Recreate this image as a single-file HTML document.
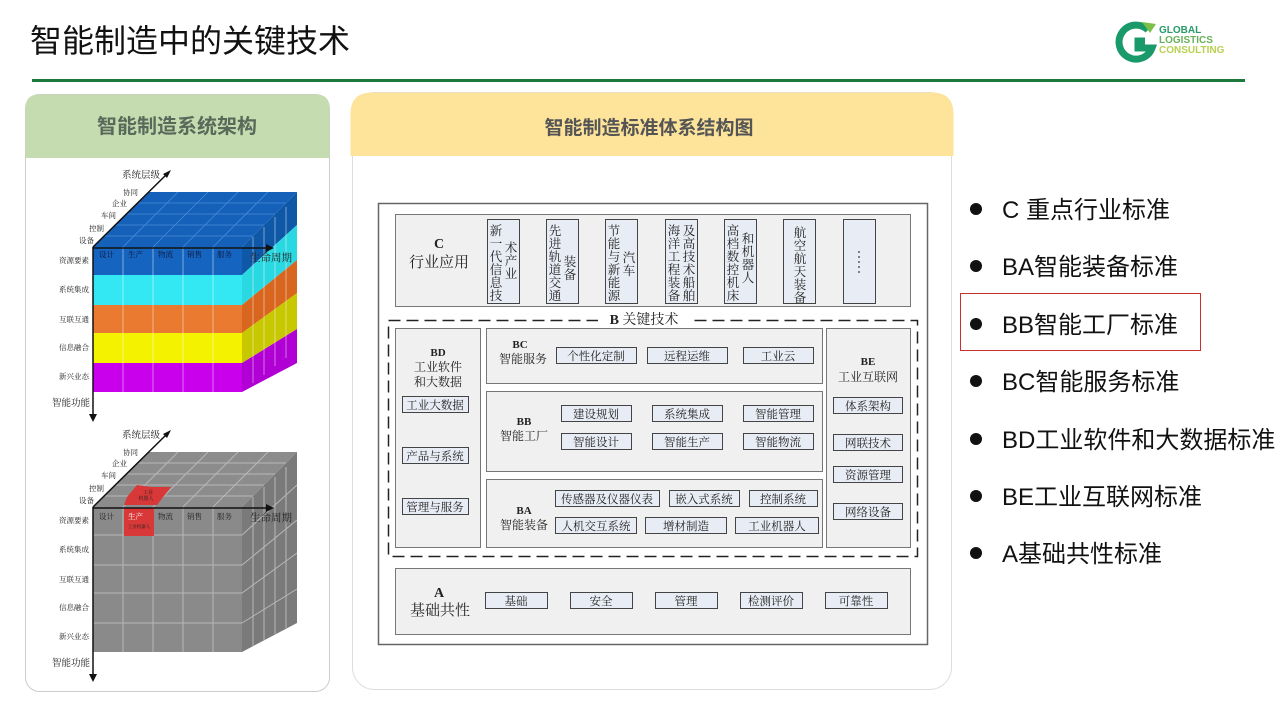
<!DOCTYPE html>
<html><head><meta charset="utf-8"><style>
html,body{margin:0;padding:0;background:#fff;width:1280px;height:720px;overflow:hidden}
svg{display:block}
.s{font-family:"Liberation Sans","Noto Sans CJK SC",sans-serif}
.f{font-family:"Liberation Serif","Noto Serif CJK SC",serif;fill:#222}
</style></head><body>
<svg width="1280" height="720" viewBox="0 0 1280 720" xmlns="http://www.w3.org/2000/svg">
<text x="30" y="52" class="s" font-size="32" fill="#111">智能制造中的关键技术</text>
<rect x="32" y="79" width="1213" height="3" fill="#1e7a3c"/>
<g>
<path d="M1148 30 A17 17 0 1 0 1152 48 L1138 48 L1138 41 L1145 41" fill="none" stroke="#1a9a6a" stroke-width="7"/>
<path d="M1142 22 L1156 24 L1150 33 Z" fill="#7cc04a"/>
<text x="1159" y="33" class="s" font-size="10" font-weight="bold" fill="#2a9a6a">GLOBAL</text>
<text x="1159" y="43" class="s" font-size="10" font-weight="bold" fill="#6ab05a">LOGISTICS</text>
<text x="1159" y="53" class="s" font-size="10" font-weight="bold" fill="#b8d050">CONSULTING</text>
</g>

<rect x="25.5" y="94.5" width="304" height="597" rx="14" fill="#fff" stroke="#ccc"/>
<path d="M25.5 158 L25.5 108 Q25.5 94.5 39 94.5 L316 94.5 Q329.5 94.5 329.5 108 L329.5 158 Z" fill="#c5dcb0"/>
<text x="177" y="133" text-anchor="middle" class="s" font-size="20" font-weight="bold" fill="#5a6a5a">智能制造系统架构</text>

<rect x="352.5" y="92.5" width="599" height="597" rx="22" fill="#fff" stroke="#ddd"/>
<path d="M350.5 156 L350.5 114 Q350.5 92.5 372 92.5 L932 92.5 Q953.5 92.5 953.5 114 L953.5 156 Z" fill="#fde49a"/>
<text x="649" y="134" text-anchor="middle" class="s" font-size="19" font-weight="bold" fill="#555">智能制造标准体系结构图</text>

<g>
<polygon points="93,247 148,192 297,192 242,247" fill="#1560b8"/>
<g stroke="#4a8ad8" stroke-width="0.8">
<line x1="123" y1="247" x2="178" y2="192"/><line x1="153" y1="247" x2="208" y2="192"/><line x1="183" y1="247" x2="238" y2="192"/><line x1="213" y1="247" x2="268" y2="192"/>
<line x1="104" y1="236" x2="253" y2="236"/><line x1="115" y1="225" x2="264" y2="225"/><line x1="126" y1="214" x2="275" y2="214"/><line x1="137" y1="203" x2="286" y2="203"/>
</g>
<rect x="93" y="247" width="149" height="28" fill="#1565c0"/>
<rect x="93" y="275" width="149" height="30" fill="#33e8f2"/>
<rect x="93" y="305" width="149" height="28" fill="#ea7a30"/>
<rect x="93" y="333" width="149" height="30" fill="#f5f200"/>
<rect x="93" y="363" width="149" height="29" fill="#c800ec"/>
<polygon points="242,247 297,192 297,225 242,275" fill="#0f58a8"/>
<polygon points="242,275 297,225 297,260 242,305" fill="#2ad8e2"/>
<polygon points="242,305 297,260 297,293 242,333" fill="#d8661e"/>
<polygon points="242,333 297,293 297,329 242,363" fill="#c8c800"/>
<polygon points="242,363 297,329 297,363 242,392" fill="#b000d4"/>
<g stroke="#ffffff" stroke-opacity="0.45" stroke-width="1">
<line x1="123" y1="247" x2="123" y2="392"/><line x1="153" y1="247" x2="153" y2="392"/><line x1="183" y1="247" x2="183" y2="392"/><line x1="213" y1="247" x2="213" y2="392"/>
<line x1="253" y1="237" x2="253" y2="383"/><line x1="264" y1="227" x2="264" y2="375"/><line x1="275" y1="217" x2="275" y2="366"/><line x1="286" y1="207" x2="286" y2="358"/>
</g>
<line x1="93" y1="247" x2="168" y2="173" stroke="#111" stroke-width="1.5"/><polygon points="171,170 163,174 167,178" fill="#111"/>
<line x1="93" y1="248" x2="268" y2="248" stroke="#111" stroke-width="1.5"/><polygon points="274,248 266,244 266,252" fill="#111"/>
<line x1="93" y1="247" x2="93" y2="417" stroke="#111" stroke-width="1.5"/><polygon points="93,422 89,414 97,414" fill="#111"/>
<g class="f" font-size="7.5">
<text x="79" y="243">设备</text><text x="89" y="231">控制</text><text x="101" y="218">车间</text><text x="112" y="206">企业</text><text x="123" y="195">协同</text>
<text x="59" y="263">资源要素</text><text x="59" y="292">系统集成</text><text x="59" y="322">互联互通</text><text x="59" y="350">信息融合</text><text x="59" y="379">新兴业态</text>
<text x="99" y="257" fill="#113">设计</text><text x="128" y="257" fill="#113">生产</text><text x="158" y="257" fill="#113">物流</text><text x="187" y="257" fill="#113">销售</text><text x="217" y="257" fill="#113">服务</text>
</g>
<text x="122" y="178" class="f" font-size="9.5">系统层级</text>
<text x="250" y="261" class="f" font-size="10.5">生命周期</text>
<text x="52" y="406" class="f" font-size="9.5">智能功能</text>
</g>

<g>
<polygon points="93,507 148,452 297,452 242,507" fill="#8c8c8c"/>
<rect x="93" y="507" width="149" height="145" fill="#8a8a8a"/>
<polygon points="242,507 297,452 297,623 242,652" fill="#7a7a7a"/>
<g stroke="#b8b8b8" stroke-width="1">
<line x1="123" y1="507" x2="178" y2="452"/><line x1="153" y1="507" x2="208" y2="452"/><line x1="183" y1="507" x2="238" y2="452"/><line x1="213" y1="507" x2="268" y2="452"/>
<line x1="104" y1="496" x2="253" y2="496"/><line x1="115" y1="485" x2="264" y2="485"/><line x1="126" y1="474" x2="275" y2="474"/><line x1="137" y1="463" x2="286" y2="463"/>
<line x1="123" y1="507" x2="123" y2="652"/><line x1="153" y1="507" x2="153" y2="652"/><line x1="183" y1="507" x2="183" y2="652"/><line x1="213" y1="507" x2="213" y2="652"/>
<line x1="93" y1="535" x2="242" y2="535"/><line x1="93" y1="565" x2="242" y2="565"/><line x1="93" y1="593" x2="242" y2="593"/><line x1="93" y1="623" x2="242" y2="623"/>
<line x1="253" y1="497" x2="253" y2="646"/><line x1="264" y1="487" x2="264" y2="640"/><line x1="275" y1="477" x2="275" y2="634"/><line x1="286" y1="467" x2="286" y2="628"/>
<line x1="242" y1="535" x2="297" y2="485"/><line x1="242" y1="565" x2="297" y2="520"/><line x1="242" y1="593" x2="297" y2="553"/><line x1="242" y1="623" x2="297" y2="589"/>
</g>
<polygon points="137,485 151,487 171,487 157,505 124,505 127,497" fill="#d83838"/>
<rect x="124" y="508" width="30" height="28" fill="#d83838"/>
<text x="148" y="494" class="f" font-size="5" fill="#fff" text-anchor="middle">工业</text>
<text x="146" y="500" class="f" font-size="5" fill="#fff" text-anchor="middle">机器人</text>
<text x="139" y="528" class="f" font-size="4.5" fill="#fff" text-anchor="middle">工业机器人</text>
<line x1="93" y1="507" x2="168" y2="433" stroke="#111" stroke-width="1.5"/><polygon points="171,430 163,434 167,438" fill="#111"/>
<line x1="93" y1="508" x2="268" y2="508" stroke="#111" stroke-width="1.5"/><polygon points="274,508 266,504 266,512" fill="#111"/>
<line x1="93" y1="507" x2="93" y2="677" stroke="#111" stroke-width="1.5"/><polygon points="93,682 89,674 97,674" fill="#111"/>
<g class="f" font-size="7.5">
<text x="79" y="503">设备</text><text x="89" y="491">控制</text><text x="101" y="478">车间</text><text x="112" y="466">企业</text><text x="123" y="455">协同</text>
<text x="59" y="523">资源要素</text><text x="59" y="552">系统集成</text><text x="59" y="582">互联互通</text><text x="59" y="610">信息融合</text><text x="59" y="639">新兴业态</text>
<text x="99" y="519">设计</text><text x="128" y="519" fill="#fff">生产</text><text x="158" y="519">物流</text><text x="187" y="519">销售</text><text x="217" y="519">服务</text>
</g>
<text x="122" y="438" class="f" font-size="9.5">系统层级</text>
<text x="250" y="521" class="f" font-size="10.5">生命周期</text>
<text x="52" y="666" class="f" font-size="9.5">智能功能</text>
</g>

<rect x="378.5" y="203.5" width="549" height="441" fill="#fff" stroke="#666" stroke-width="1.5"/>
<rect x="395.5" y="214.5" width="515" height="92" fill="#f0f0f0" stroke="#777"/>
<text x="439" y="248" class="f" font-size="14" font-weight="bold" text-anchor="middle">C</text>
<text x="439" y="267" class="f" font-size="15" text-anchor="middle">行业应用</text>
<g fill="#e8ecf4" stroke="#444">
<rect x="487.5" y="219.5" width="32" height="84"/><rect x="546.5" y="219.5" width="32" height="84"/><rect x="605.5" y="219.5" width="32" height="84"/>
<rect x="665.5" y="219.5" width="32" height="84"/><rect x="724.5" y="219.5" width="32" height="84"/><rect x="783.5" y="219.5" width="32" height="84"/><rect x="843.5" y="219.5" width="32" height="84"/>
</g>
<g class="f" font-size="12.5" text-anchor="middle">
<text><tspan x="496" y="235">新</tspan><tspan x="496" dy="13">一</tspan><tspan x="496" dy="13">代</tspan><tspan x="496" dy="13">信</tspan><tspan x="496" dy="13">息</tspan><tspan x="496" dy="13">技</tspan></text>
<text><tspan x="511" y="252">术</tspan><tspan x="511" dy="13">产</tspan><tspan x="511" dy="13">业</tspan></text>
<text><tspan x="555" y="235">先</tspan><tspan x="555" dy="13">进</tspan><tspan x="555" dy="13">轨</tspan><tspan x="555" dy="13">道</tspan><tspan x="555" dy="13">交</tspan><tspan x="555" dy="13">通</tspan></text>
<text><tspan x="570" y="266">装</tspan><tspan x="570" dy="13">备</tspan></text>
<text><tspan x="614" y="235">节</tspan><tspan x="614" dy="13">能</tspan><tspan x="614" dy="13">与</tspan><tspan x="614" dy="13">新</tspan><tspan x="614" dy="13">能</tspan><tspan x="614" dy="13">源</tspan></text>
<text><tspan x="629" y="262">汽</tspan><tspan x="629" dy="13">车</tspan></text>
<text><tspan x="674" y="235">海</tspan><tspan x="674" dy="13">洋</tspan><tspan x="674" dy="13">工</tspan><tspan x="674" dy="13">程</tspan><tspan x="674" dy="13">装</tspan><tspan x="674" dy="13">备</tspan></text>
<text><tspan x="689" y="235">及</tspan><tspan x="689" dy="13">高</tspan><tspan x="689" dy="13">技</tspan><tspan x="689" dy="13">术</tspan><tspan x="689" dy="13">船</tspan><tspan x="689" dy="13">舶</tspan></text>
<text><tspan x="733" y="235">高</tspan><tspan x="733" dy="13">档</tspan><tspan x="733" dy="13">数</tspan><tspan x="733" dy="13">控</tspan><tspan x="733" dy="13">机</tspan><tspan x="733" dy="13">床</tspan></text>
<text><tspan x="748" y="243">和</tspan><tspan x="748" dy="13">机</tspan><tspan x="748" dy="13">器</tspan><tspan x="748" dy="13">人</tspan></text>
<text><tspan x="800" y="237">航</tspan><tspan x="800" dy="13">空</tspan><tspan x="800" dy="13">航</tspan><tspan x="800" dy="13">天</tspan><tspan x="800" dy="13">装</tspan><tspan x="800" dy="13">备</tspan></text>
</g>
<g fill="#333"><circle cx="859" cy="252" r="0.9"/><circle cx="859" cy="257" r="0.9"/><circle cx="859" cy="262" r="0.9"/><circle cx="859" cy="267" r="0.9"/><circle cx="859" cy="272" r="0.9"/></g>

<rect x="388.5" y="320.5" width="529" height="236" fill="none" stroke="#222" stroke-width="1.5" stroke-dasharray="12,6"/>
<rect x="598" y="311" width="92" height="16" fill="#fff"/>
<text x="644" y="324" class="f" font-size="14" text-anchor="middle"><tspan font-weight="bold">B</tspan>  关键技术</text>

<g fill="#f0f0f0" stroke="#777">
<rect x="395.5" y="328.5" width="85" height="219"/>
<rect x="486.5" y="328.5" width="336" height="55"/>
<rect x="486.5" y="391.5" width="336" height="80"/>
<rect x="486.5" y="479.5" width="336" height="68"/>
<rect x="826.5" y="328.5" width="84" height="219"/>
<rect x="395.5" y="568.5" width="515" height="66"/>
</g>
<g class="f" text-anchor="middle">
<text x="438" y="356" font-size="11" font-weight="bold">BD</text>
<text x="438" y="371" font-size="12">工业软件</text>
<text x="438" y="386" font-size="12">和大数据</text>
<text x="520" y="348" font-size="11" font-weight="bold">BC</text>
<text x="523" y="363" font-size="12">智能服务</text>
<text x="524" y="425" font-size="11" font-weight="bold">BB</text>
<text x="524" y="440" font-size="12">智能工厂</text>
<text x="524" y="514" font-size="11" font-weight="bold">BA</text>
<text x="524" y="529" font-size="12">智能装备</text>
<text x="868" y="365" font-size="11" font-weight="bold">BE</text>
<text x="868" y="381" font-size="12">工业互联网</text>
<text x="439" y="597" font-size="14" font-weight="bold">A</text>
<text x="440" y="615" font-size="15">基础共性</text>
</g>
<g fill="#e8ecf4" stroke="#444">
<rect x="402.5" y="396.5" width="66" height="16"/><rect x="402.5" y="447.5" width="66" height="16"/><rect x="402.5" y="498.5" width="66" height="16"/>
<rect x="556.5" y="347.5" width="80" height="16"/><rect x="647.5" y="347.5" width="80" height="16"/><rect x="743.5" y="347.5" width="70" height="16"/>
<rect x="561.5" y="405.5" width="70" height="16"/><rect x="652.5" y="405.5" width="70" height="16"/><rect x="743.5" y="405.5" width="70" height="16"/>
<rect x="561.5" y="433.5" width="70" height="16"/><rect x="652.5" y="433.5" width="70" height="16"/><rect x="743.5" y="433.5" width="70" height="16"/>
<rect x="555.5" y="490.5" width="104" height="16"/><rect x="669.5" y="490.5" width="70" height="16"/><rect x="749.5" y="490.5" width="68" height="16"/>
<rect x="555.5" y="517.5" width="81" height="16"/><rect x="645.5" y="517.5" width="81" height="16"/><rect x="735.5" y="517.5" width="83" height="16"/>
<rect x="833.5" y="397.5" width="69" height="16"/><rect x="833.5" y="434.5" width="69" height="16"/><rect x="833.5" y="466.5" width="69" height="16"/><rect x="833.5" y="503.5" width="69" height="16"/>
<rect x="485.5" y="592.5" width="62" height="16"/><rect x="570.5" y="592.5" width="62" height="16"/><rect x="655.5" y="592.5" width="62" height="16"/><rect x="740.5" y="592.5" width="62" height="16"/><rect x="825.5" y="592.5" width="62" height="16"/>
</g>
<g class="f" font-size="11.5" text-anchor="middle" fill="#333">
<text x="435" y="409">工业大数据</text><text x="435" y="460">产品与系统</text><text x="435" y="511">管理与服务</text>
<text x="596" y="360">个性化定制</text><text x="687" y="360">远程运维</text><text x="778" y="360">工业云</text>
<text x="596" y="418">建设规划</text><text x="687" y="418">系统集成</text><text x="778" y="418">智能管理</text>
<text x="596" y="446">智能设计</text><text x="687" y="446">智能生产</text><text x="778" y="446">智能物流</text>
<text x="607" y="503">传感器及仪器仪表</text><text x="704" y="503">嵌入式系统</text><text x="783" y="503">控制系统</text>
<text x="596" y="530">人机交互系统</text><text x="686" y="530">增材制造</text><text x="777" y="530">工业机器人</text>
<text x="868" y="410">体系架构</text><text x="868" y="447">网联技术</text><text x="868" y="479">资源管理</text><text x="868" y="516">网络设备</text>
<text x="516" y="605">基础</text><text x="601" y="605">安全</text><text x="686" y="605">管理</text><text x="771" y="605">检测评价</text><text x="856" y="605">可靠性</text>
</g>

<g class="s" font-size="24" fill="#111">
<circle cx="976" cy="209" r="6"/><text x="1002" y="218">C 重点行业标准</text>
<circle cx="976" cy="266" r="6"/><text x="1002" y="275">BA智能装备标准</text>
<circle cx="976" cy="324" r="6"/><text x="1002" y="333">BB智能工厂标准</text>
<circle cx="976" cy="381" r="6"/><text x="1002" y="390">BC智能服务标准</text>
<circle cx="976" cy="439" r="6"/><text x="1002" y="448">BD工业软件和大数据标准</text>
<circle cx="976" cy="496" r="6"/><text x="1002" y="505">BE工业互联网标准</text>
<circle cx="976" cy="553" r="6"/><text x="1002" y="562">A基础共性标准</text>
</g>
<rect x="960.5" y="293.5" width="240" height="57" fill="none" stroke="#c83030" stroke-width="1"/>
</svg>
</body></html>
